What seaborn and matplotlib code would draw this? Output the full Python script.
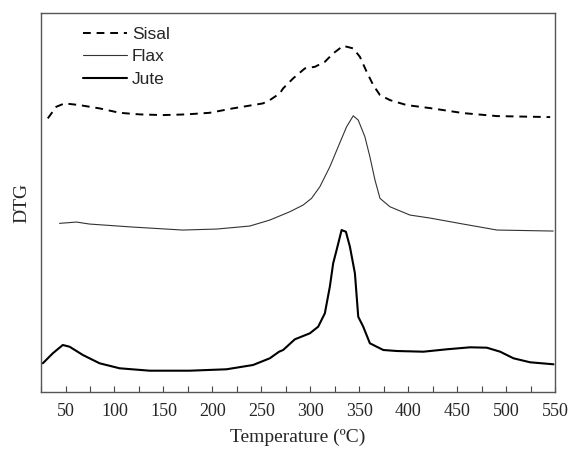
import numpy as np
import pandas as pd
import matplotlib
matplotlib.use("Agg")
import matplotlib.pyplot as plt
from matplotlib.ticker import MultipleLocator
import seaborn as sns

# DTG curves (arbitrary units, curves offset vertically)
sisal_T = [31.9, 40.5, 49, 64.3, 84.8, 105.2, 125.7, 149.2, 173.4, 197.2, 220.8, 241.2,
           251.6, 258.6, 268.8, 272.2, 282.4, 294.4, 304.6, 314.8, 323.3, 333.5, 343.8,
           350.6, 357.5, 364.2, 371.1, 381.3, 398.4, 422.2, 456, 490.7, 544.9]
sisal_dtg = [273.7, 285.3, 288.7, 287, 283.7, 279.3, 277.7, 277, 277.7, 279.3, 283.7, 287,
             288.7, 292, 298.7, 303.7, 313.7, 323.7, 325.3, 330.3, 338.7, 346.3, 343.7,
             335.3, 320.3, 307, 297, 292, 287, 284, 279, 276, 275]

flax_T = [43.9, 61.2, 74.5, 118.5, 169.6, 204.4, 238.1, 258.6, 279, 292.6, 301.2, 309.7,
          319.9, 328.4, 337, 343.8, 348.9, 355.7, 360.8, 366, 371.1, 381.3, 401.7, 422.2,
          456, 490.7, 548]
flax_dtg = [168.7, 170, 168, 165, 162, 163, 166, 172, 180.3, 187, 193.7, 205.3,
            225.3, 245.3, 265.3, 276.3, 272, 255.3, 235.3, 212, 193.7, 185.3, 177, 174,
            168, 162, 161]

jute_T = [26.8, 37, 47.2, 54.1, 67.7, 84.8, 105.2, 135.9, 176.8, 214.3, 241.5, 258.6,
          268.1, 272.2, 284.2, 299.5, 308, 314.8, 319.9, 323.3, 326.8, 331.9, 336.3,
          340.4, 345.5, 348.9, 354, 360.8, 367.7, 374.5, 388.1, 415.4, 439.3, 463.1,
          480.2, 493.8, 507.4, 524.4, 548.3]
jute_dtg = [28.7, 38.7, 47, 45.3, 37, 28.7, 23.7, 21.3, 21.3, 22.7, 27, 33.7,
            40.3, 42, 52.7, 58.7, 65.3, 78.7, 105.3, 128.7, 142, 162, 160.3,
            145.3, 118.7, 75.3, 65.3, 48.7, 45.3, 42, 41, 40.3, 42.7, 44.7,
            44.3, 40.3, 33.7, 29.7, 27.7]

sns.set_style("white")
plt.rcParams['font.family'] = ['Liberation Serif', 'DejaVu Serif']

fig = plt.figure(figsize=(5.7, 4.53), dpi=100)
ax = fig.add_axes([0.072, 0.1347, 0.902, 0.8363])

sns.lineplot(x=sisal_T, y=sisal_dtg, ax=ax, color='black', lw=1.4, label='Sisal',
             sort=False)
ax.lines[-1].set_dashes([4, 3])
sns.lineplot(x=flax_T, y=flax_dtg, ax=ax, color='#333333', lw=0.8, label='Flax', sort=False)
sns.lineplot(x=jute_T, y=jute_dtg, ax=ax, color='black', lw=1.5, label='Jute', sort=False)

ax.set_xlim(25, 550)
ax.set_ylim(0, 379)
ax.xaxis.set_major_locator(MultipleLocator(50))
ax.xaxis.set_minor_locator(MultipleLocator(25))
ax.tick_params(axis='x', which='both', direction='in', length=4, width=0.8,
               color='#444444', labelsize=13, bottom=True, pad=8)
ax.set_yticks([])
for s in ax.spines.values():
    s.set_color('#555555')
    s.set_linewidth(1.0)

ax.set_xlabel('Temperature (ºC)', fontsize=14, labelpad=6)
ax.set_ylabel('DTG', fontsize=14, labelpad=8)

leg = ax.legend(loc='upper left', frameon=False, bbox_to_anchor=(0.052, 1.005),
                prop={'family': 'Liberation Sans', 'size': 12.5},
                handlelength=2.5, handletextpad=0.3, labelspacing=0.42)

fig.savefig('out.png', dpi=100)
